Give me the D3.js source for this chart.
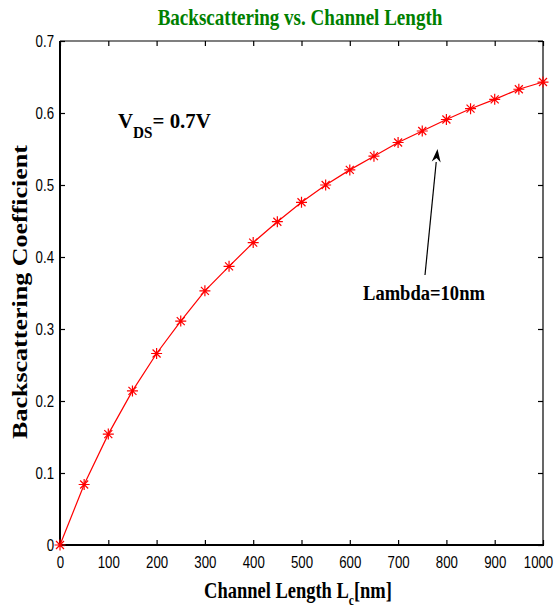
<!DOCTYPE html>
<html><head><meta charset="utf-8">
<script src="https://cdn.jsdelivr.net/npm/d3@7"></script>
<style>body{margin:0;background:#fff}</style></head>
<body><svg id="c" width="557" height="608"></svg>
<script>
const lengths = [0,50,100,150,200,250,300,350,400,450,500,550,600,650,700,750,800,850,900,950,1000];
const backscatter = [0,0.084,0.154,0.214,0.266,0.311,0.353,0.387,0.420,0.449,0.476,0.500,0.521,0.540,0.559,0.575,0.591,0.606,0.619,0.633,0.643];
const xTicks = [0,100,200,300,400,500,600,700,800,900,1000];
const yTicks = [0,0.1,0.2,0.3,0.4,0.5,0.6,0.7];
const titleText = "Backscattering vs. Channel Length";
const yLabelText = "Backscattering Coefficient";
const annotText = "Lambda=10nm";

const svg = d3.select("#c");
const L = 60, R = 543, T = 41, B = 545;
const x = d3.scaleLinear().domain([0,1000]).range([L,R]);
const y = d3.scaleLinear().domain([0,0.7]).range([B,T]);
const SX = 0.78;

function fit(sel, target, anchorX, anchorY, rot) {
  const w = sel.node().getBBox().width;
  const s = target / w;
  sel.attr("transform", `translate(${anchorX},${anchorY})` + (rot ? ` rotate(${rot})` : "") + ` scale(${s},1)`);
}

// box top/right
svg.append("line").attr("x1",L).attr("x2",R).attr("y1",T).attr("y2",T).attr("stroke","#000").attr("stroke-width",1.2);
svg.append("line").attr("x1",R).attr("x2",R).attr("y1",T).attr("y2",B).attr("stroke","#000").attr("stroke-width",1.2);

// axes
const gx = svg.append("g").attr("transform",`translate(0,${B})`)
  .call(d3.axisBottom(x).tickValues(xTicks).tickSize(-5).tickPadding(8).tickFormat(d3.format("d")));
const gy = svg.append("g").attr("transform",`translate(${L},0)`)
  .call(d3.axisLeft(y).tickValues(yTicks).tickSize(-5).tickPadding(6).tickFormat(d => d === 0 ? "0" : d3.format(".1f")(d)));
const gxt = svg.append("g").attr("transform",`translate(0,${T})`)
  .call(d3.axisTop(x).tickValues(xTicks).tickSize(-5).tickFormat(""));
const gyr = svg.append("g").attr("transform",`translate(${R},0)`)
  .call(d3.axisRight(y).tickValues(yTicks).tickSize(-5).tickFormat(""));
[gx,gy,gxt,gyr].forEach(g => { g.select(".domain").remove(); g.selectAll("line").attr("stroke","#000").attr("stroke-width",1.2); });
svg.append("line").attr("x1",L).attr("x2",R+1).attr("y1",B).attr("y2",B).attr("stroke","#000").attr("stroke-width",2);
svg.append("line").attr("x1",L).attr("x2",L).attr("y1",T).attr("y2",B+1).attr("stroke","#000").attr("stroke-width",2);

gx.selectAll("text").attr("font-family","Liberation Sans, Arial, sans-serif").attr("font-size",17).attr("fill","#000")
  .attr("dy","0.71em").attr("y",11).attr("x", d => d === 1000 ? -5/SX : 0).attr("transform",`scale(${SX},1)`);
gy.selectAll("text").attr("font-family","Liberation Sans, Arial, sans-serif").attr("font-size",17).attr("fill","#000")
  .attr("x",-6/SX).attr("dy","0.35em").attr("transform",`scale(${SX},1)`);

// line + markers
svg.append("path").datum(lengths.map((d,i)=>[d,backscatter[i]]))
  .attr("fill","none").attr("stroke","#ff0000").attr("stroke-width",1.2)
  .attr("d", d3.line().x(d=>x(d[0])).y(d=>y(d[1])));
const r = 5.5, rd = 4;
const star = `M${-r},0L${r},0M0,${-r}L0,${r}M${-rd},${-rd}L${rd},${rd}M${-rd},${rd}L${rd},${-rd}`;
svg.append("g").selectAll("path").data(lengths.map((d,i)=>[d,backscatter[i]])).join("path")
  .attr("transform", d=>`translate(${x(d[0])},${y(d[1])})`)
  .attr("d", star).attr("stroke","#ff0000").attr("stroke-width",1.2).attr("fill","none");

// title
const title = svg.append("text").attr("font-family","Liberation Serif, Times New Roman, serif").attr("font-weight","bold")
  .attr("font-size",24).attr("fill","#008000").attr("text-anchor","middle").text(titleText);
fit(title, 285, 300, 25);

// y label
const yl = svg.append("text").attr("font-family","Liberation Serif, Times New Roman, serif").attr("font-weight","bold")
  .attr("font-size",22).attr("fill","#000").attr("text-anchor","middle").text(yLabelText);
fit(yl, 295, 27, 292, -90);

// x label
const xl = svg.append("text").attr("font-family","Liberation Serif, Times New Roman, serif").attr("font-weight","bold")
  .attr("font-size",24).attr("fill","#000").attr("text-anchor","middle");
xl.append("tspan").text("Channel Length L");
xl.append("tspan").attr("font-size",15).attr("dy",7).text("c");
xl.append("tspan").attr("dy",-7).text("[nm]");
fit(xl, 188, 298, 598);

// VDS annotation
const vds = svg.append("text").attr("font-family","Liberation Serif, Times New Roman, serif").attr("font-weight","bold")
  .attr("font-size",22).attr("fill","#000").attr("text-anchor","start");
vds.append("tspan").text("V");
vds.append("tspan").attr("font-size",16).attr("dy",10).text("DS");
vds.append("tspan").attr("dy",-10).text("= 0.7V");
fit(vds, 93, 118, 128);

// Lambda annotation
const lam = svg.append("text").attr("font-family","Liberation Serif, Times New Roman, serif").attr("font-weight","bold")
  .attr("font-size",22).attr("fill","#000").attr("text-anchor","start").text(annotText);
fit(lam, 122, 363, 300);

// arrow
const ax1 = 425, ay1 = 275, ax2 = 437.5, ay2 = 149;
const ang = Math.atan2(ay2-ay1, ax2-ax1);
const hl = 13, hw = 4.5;
const bx = ax2 - hl*Math.cos(ang), by = ay2 - hl*Math.sin(ang);
svg.append("line").attr("x1",ax1).attr("y1",ay1).attr("x2",bx).attr("y2",by).attr("stroke","#000").attr("stroke-width",1.2);
svg.append("path").attr("fill","#000")
  .attr("d",`M${ax2},${ay2}L${bx+hw*Math.sin(ang)},${by-hw*Math.cos(ang)}L${bx+0.3*hl*Math.cos(ang)},${by+0.3*hl*Math.sin(ang)}L${bx-hw*Math.sin(ang)},${by+hw*Math.cos(ang)}Z`);
</script></body></html>
